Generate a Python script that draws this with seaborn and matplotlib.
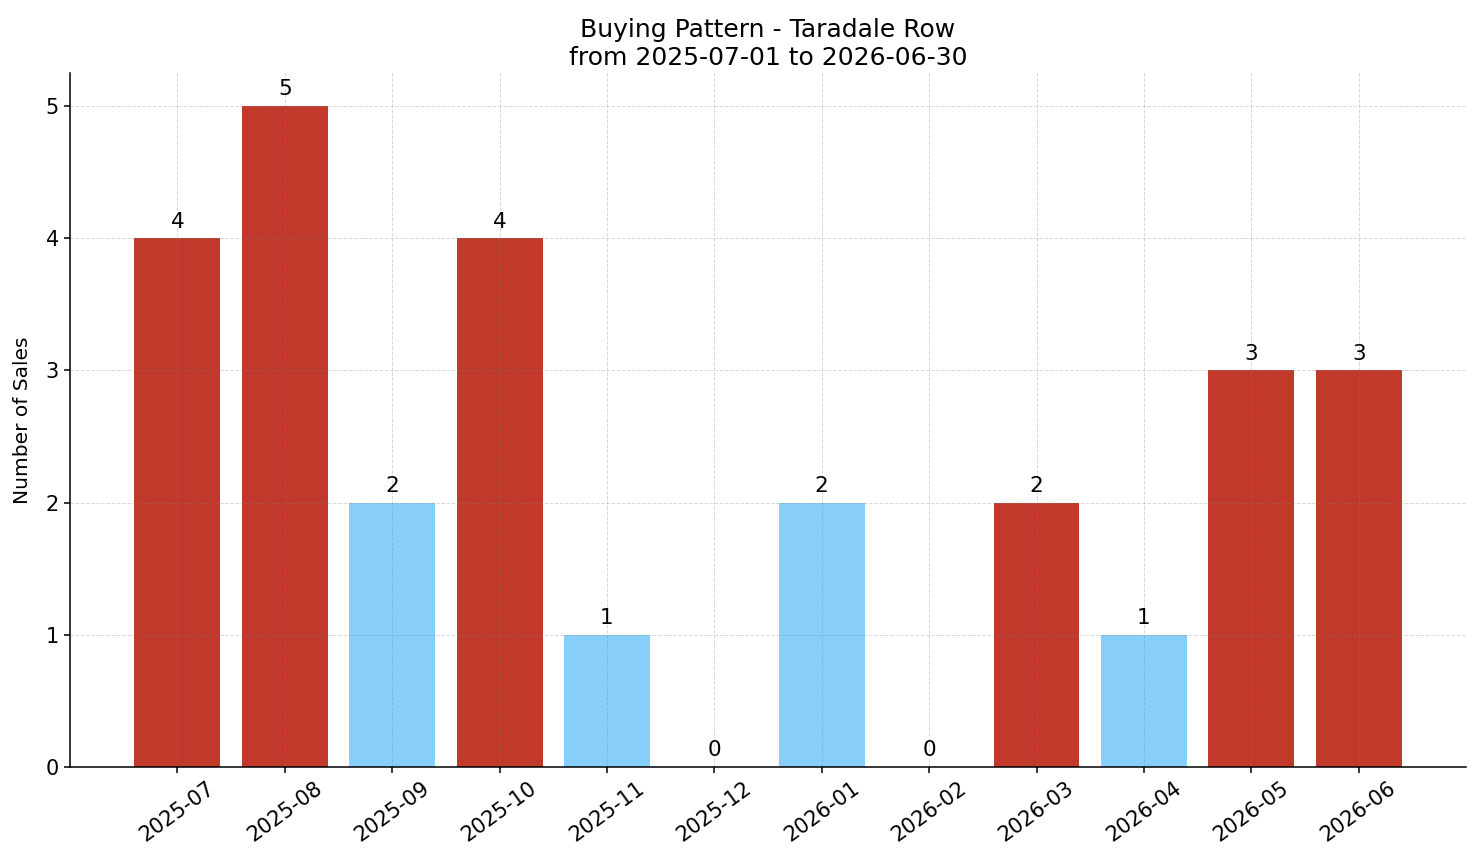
import pandas as pd
import seaborn as sns
import matplotlib.pyplot as plt

# chart data
months = ['2025-07', '2025-08', '2025-09', '2025-10', '2025-11', '2025-12',
          '2026-01', '2026-02', '2026-03', '2026-04', '2026-05', '2026-06']
sales = [4, 5, 2, 4, 1, 0, 2, 0, 2, 1, 3, 3]
bar_colors = ['#C0392B', '#C0392B', '#87CEFA', '#C0392B', '#87CEFA', '#87CEFA',
              '#87CEFA', '#87CEFA', '#C0392B', '#87CEFA', '#C0392B', '#C0392B']

df = pd.DataFrame({'Month': months, 'Sales': sales})

sns.set_style('white')
plt.rcParams['font.family'] = ['DejaVu Sans']
plt.rcParams['text.color'] = 'black'
plt.rcParams['axes.labelcolor'] = 'black'
plt.rcParams['xtick.color'] = 'black'
plt.rcParams['ytick.color'] = 'black'

fig, ax = plt.subplots(figsize=(14.81, 8.63), dpi=100)
sns.barplot(data=df, x='Month', y='Sales', hue='Month', palette=bar_colors,
            legend=False, width=0.8, saturation=1, linewidth=0, ax=ax, zorder=2)

# value labels above bars
for i, v in enumerate(sales):
    ax.text(i, v + 0.05, str(v), ha='center', va='bottom', fontsize=15.5, color='black')

ax.set_xlim(-1, 12)
ax.set_ylim(0, 5.25)
ax.set_yticks(range(0, 6))
ax.grid(True, linestyle='--', color='gray', alpha=0.3, linewidth=0.7, zorder=3)
ax.set_axisbelow(False)
sns.despine(ax=ax)
for s in ['left', 'bottom']:
    ax.spines[s].set_color('black')
    ax.spines[s].set_linewidth(1.1)
    ax.spines[s].set_zorder(4)

ax.tick_params(axis='both', labelsize=15, length=4.5, width=1.1, color='black',
               bottom=True, left=True)
plt.setp(ax.get_xticklabels(), rotation=36, ha='center')
ax.set_xlabel('')
ax.set_ylabel('Number of Sales', fontsize=14.5, labelpad=10)
ax.set_title('Buying Pattern - Taradale Row\nfrom 2025-07-01 to 2026-06-30', fontsize=18)

plt.subplots_adjust(left=0.0473, right=0.9899, top=0.9154, bottom=0.1112)
plt.savefig('out.png', dpi=100)
